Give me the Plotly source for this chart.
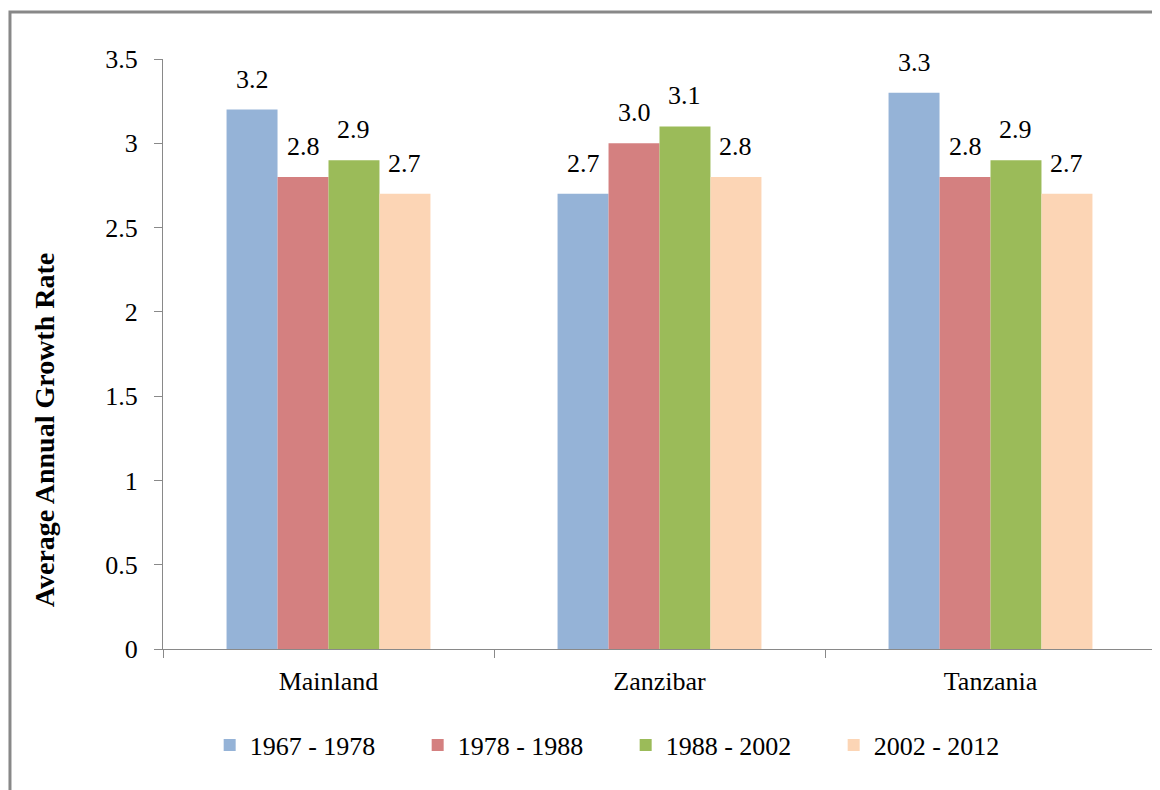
import plotly.graph_objects as go

regions = ["Mainland", "Zanzibar", "Tanzania"]
periods = ["1967 - 1978", "1978 - 1988", "1988 - 2002", "2002 - 2012"]
rates = {
    "1967 - 1978": [3.2, 2.7, 3.3],
    "1978 - 1988": [2.8, 3.0, 2.8],
    "1988 - 2002": [2.9, 3.1, 2.9],
    "2002 - 2012": [2.7, 2.8, 2.7],
}
colors = ["#95B3D7", "#D48080", "#9BBB59", "#FCD5B5"]
y_ticks = [0, 0.5, 1, 1.5, 2, 2.5, 3, 3.5]

FONT = "Liberation Serif"
FS = 26
BARGAP = 0.384
W = (1 - BARGAP) / len(periods)

fig = go.Figure()
for j, p in enumerate(periods):
    fig.add_trace(go.Bar(
        x=regions, y=rates[p], name=p,
        marker=dict(color=colors[j], line=dict(width=0)),
    ))
    for i, v in enumerate(rates[p]):
        fig.add_annotation(
            x=i + (j - (len(periods) - 1) / 2) * W, y=v,
            text=f"{v:.1f}", showarrow=False, yanchor="bottom", yshift=14,
            font=dict(family=FONT, size=FS, color="#000"),
        )

fig.add_annotation(
    xref="paper", yref="paper", x=-0.1198, y=0.371, textangle=-90,
    text="<b>Average Annual Growth Rate</b>", showarrow=False,
    xanchor="center", yanchor="middle",
    font=dict(family=FONT, size=28, color="#000"),
)

# outer frame (partially visible)
fig.add_shape(type="rect", xref="paper", yref="paper",
              x0=-0.1541, x1=1.2, y0=-0.5, y1=1.0797,
              line=dict(color="#888888", width=3), fillcolor="rgba(0,0,0,0)", layer="below")

fig.update_layout(
    width=1160, height=790,
    margin=dict(l=155, r=12, t=51, b=149),
    paper_bgcolor="white", plot_bgcolor="white",
    barmode="group", bargap=BARGAP, bargroupgap=0,
    font=dict(family=FONT, size=FS, color="#000"),
    showlegend=True,
    legend=dict(orientation="h", x=0.047, xanchor="left", y=-0.163, yanchor="middle",
                font=dict(family=FONT, size=FS, color="#000"),
                entrywidth=163, entrywidthmode="pixels", itemclick=False),
)
fig.update_xaxes(
    type="category", range=[-0.5, 2.5], showline=True, linecolor="#898989", linewidth=1,
    ticks="outside", tickson="boundaries", ticklen=8, tickcolor="#898989",
    showgrid=False, ticklabelstandoff=9, tickfont=dict(family=FONT, size=FS, color="#000"),
)
fig.update_yaxes(
    range=[0, 3.5], tickvals=y_ticks, showline=True, linecolor="#898989", linewidth=1,
    ticks="outside", ticklen=8, tickcolor="#898989", showgrid=False, zeroline=False,
    ticklabelstandoff=11, tickfont=dict(family=FONT, size=FS, color="#000"),
)

fig.write_html("out.html")
